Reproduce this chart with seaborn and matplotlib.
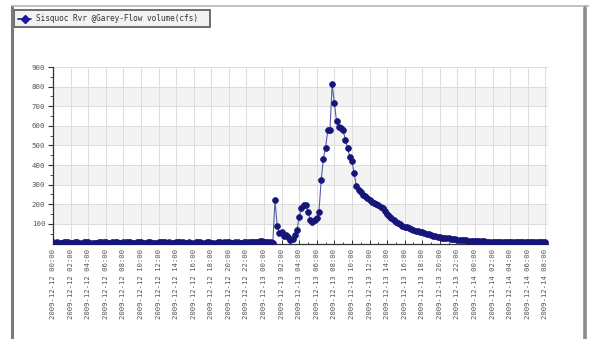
import matplotlib
matplotlib.use("Agg")
import matplotlib.pyplot as plt
import matplotlib.dates as mdates
from matplotlib.lines import Line2D
from matplotlib.patches import Rectangle
import seaborn as sns
import pandas as pd
import numpy as np

# ---- data (15-minute flow readings, cfs) ----
series_name = "Sisquoc Rvr @Garey-Flow volume(cfs)"
start_time = "2009-12-12 00:00"
baseline_flow = [6,5,6,5,5,6,7,6,5,5, 6,6,5,5,6,7,6,5,4,5, 5,6,6,7,6,5,5,6,8,6,
                 5,5,6,6,7,6,5,5,6,7, 6,5,5,6,6,5,4,5,6,7, 8,6,5,6,5,5,6,6,7,6,
                 5,5,6,5,5,6,7,6,5,5, 6,6,5,4,5,6,6,5,6,7, 6,5,5,6,6,5,5,6,7,8,
                 9,8,7,9,12,13,10,8,10]
storm_flow = [10,5,220,90,52,60,40,45,33,18,25,45,69,137,180,197,197,163,120,112,
              120,129,163,322,433,488,578,578,811,715,623,594,590,577,530,488,442,
              420,360,291,271,261]
recession_flow = [249,240,230,220,214,206,200,194,187,180,165,152,140,129,120,110,
                  105,98,91,86,82,78,74,70,66,63,61,57,53,49,46,42,39,36,34,32,30,
                  29,27,26,24,23,21,20,19,18,17,16,15,14,14,13,12,12,11]
tail_flow = [11,10,10,10,9,9,9,9,8,8, 8,8,8,7,8,8,7,7,8,8, 7,7,8,8,9,8,8,8,8]
y_ticks = [100, 200, 300, 400, 500, 600, 700, 800, 900]

flow = baseline_flow + storm_flow + recession_flow + tail_flow
times = pd.date_range(start_time, periods=len(flow), freq="15min")
df = pd.DataFrame({"time": times, "flow": flow})

sns.set_style("white")
plt.rcParams["font.family"] = ["DejaVu Sans Mono", "DejaVu Sans"]

W, H = 589, 339
fig = plt.figure(figsize=(W / 100, H / 100), dpi=100)
fig.patch.set_facecolor("white")

# outer frame of the screenshot
fig.add_artist(Line2D([12 / W, 12 / W], [0, 1 - 6 / H], color="#7a7a7a", lw=2.2))
fig.add_artist(Line2D([12 / W, 1], [1 - 6 / H, 1 - 6 / H], color="#b8b8b8", lw=1.2))
fig.add_artist(Line2D([585 / W, 585 / W], [0, 1 - 8 / H], color="#8a8a8a", lw=2.6))

# plot axes
left, right, top, bottom = 53, 548, 67, 243.5
ax = fig.add_axes([left / W, 1 - bottom / H, (right - left) / W, (bottom - top) / H])

for lo in (100, 300, 500, 700):
    ax.axhspan(lo, lo + 100, color="#f3f3f3", zorder=0, lw=0)

sns.lineplot(data=df, x="time", y="flow", ax=ax, color="#5a5aa8", lw=0.8,
             marker="o", markersize=4.2, markerfacecolor="#15157a",
             markeredgecolor="#15157a", markeredgewidth=0.5, zorder=3)

t0 = pd.Timestamp(start_time)
ax.set_xlim(t0, t0 + pd.Timedelta(hours=56.3))
ax.set_ylim(0, 900)
ax.set_yticks(y_ticks)
ax.set_yticks(np.arange(50, 900, 100), minor=True)
ax.xaxis.set_major_locator(mdates.HourLocator(byhour=range(0, 24, 2)))
ax.xaxis.set_minor_locator(mdates.HourLocator())
ax.xaxis.set_major_formatter(mdates.DateFormatter("%Y-%m-%d %H:%M"))
ax.set_xlabel("")
ax.set_ylabel("")
ax.grid(True, which="major", color="#dcdcdc", lw=0.7)
ax.set_axisbelow(True)

for s in ("top", "right"):
    ax.spines[s].set_visible(False)
for s in ("left", "bottom"):
    ax.spines[s].set_color("#333333")
    ax.spines[s].set_linewidth(0.9)

ax.tick_params(axis="y", which="major", direction="out", length=3.5, width=0.8,
               color="#333333", labelsize=5.3, labelcolor="#555555", pad=2, left=True)
ax.tick_params(axis="y", which="minor", direction="out", length=2, width=0.6,
               color="#333333", left=True)
ax.tick_params(axis="x", which="major", direction="in", length=3, width=0.7,
               color="#333333", labelsize=5.2, labelcolor="#555555", pad=4, bottom=True)
ax.tick_params(axis="x", which="minor", direction="in", length=1.8, width=0.6,
               color="#333333", bottom=True)
for lab in ax.get_xticklabels():
    lab.set_rotation(90)
    lab.set_va("top")
    lab.set_ha("center")

# legend box (drawn like the original screenshot)
fig.add_artist(Rectangle((14 / W, 1 - 27 / H), 196 / W, 17 / H,
                         transform=fig.transFigure, facecolor="#f2f2f2",
                         edgecolor="#555555", lw=1.2))
fig.add_artist(Line2D([18 / W, 31 / W], [1 - 18.5 / H] * 2, color="#1a1a9a", lw=1.2,
                      marker="D", markevery=[0, 1], markersize=0))
fig.add_artist(Line2D([24.5 / W], [1 - 18.5 / H], color="#1a1a9a", marker="D",
                      markersize=4, lw=0))
fig.text(36 / W, 1 - 18.5 / H, series_name, fontsize=5.6, color="#333333",
         va="center", ha="left")

fig.savefig("out.png", dpi=100, facecolor="white")
